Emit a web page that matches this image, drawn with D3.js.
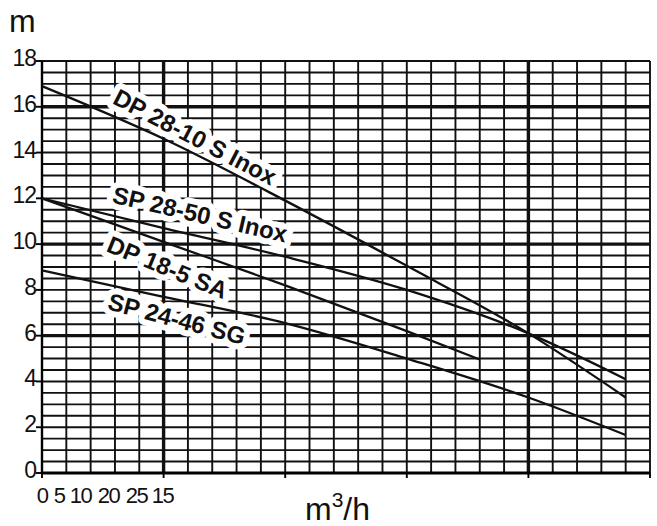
<!DOCTYPE html>
<html>
<head>
<meta charset="utf-8">
<script src="https://cdn.jsdelivr.net/npm/d3@7"></script>
<style>
body { margin: 0; background: #fff; }
text { font-family: "Liberation Sans", Arial, sans-serif; fill: #111; }
</style>
</head>
<body>
<div id="chart"></div>
<script>
// flow axis is read in grid cells (25 cells across), head in m
var flowCells = [0, 5, 10, 15, 20, 24];
var dp2810 = [16.9, 14.6, 11.9, 9.05, 6.1, 3.3];
var sp2850 = [12.0, 10.7, 9.45, 8.0, 6.1, 4.1];
var dp185Cells = [0, 5, 10, 15, 18];
var dp185 = [12.0, 10.1, 8.2, 6.2, 4.96];
var sp2446 = [8.85, 7.7, 6.55, 5.0, 3.3, 1.66];

var seriesNames = ["DP 28-10 S Inox", "SP 28-50 S Inox", "DP 18-5 SA", "SP 24-46 SG"];
var yTicks = [0, 2, 4, 6, 8, 10, 12, 14, 16, 18];
var xTickLabels = ["0", "5", "10", "20", "25", "15"];
var xTickAt = [0, 0.7, 1.58, 2.73, 3.89, 4.95];
var heavyX = [5, 20];
var heavyY = [6, 10, 16];

var W = 657, H = 526;
var margin = {left: 42, top: 61, right: 7, bottom: 53};

var svg = d3.select("#chart").append("svg")
	.attr("width", W)
	.attr("height", H);

var x = d3.scaleLinear().domain([0, 25]).range([margin.left, W - margin.right]);
var y = d3.scaleLinear().domain([0, 18]).range([H - margin.bottom, margin.top]);

// grid
var grid = svg.append("g").attr("stroke", "#111");
grid.selectAll("line.v")
	.data(d3.range(0, 26))
	.enter().append("line")
	.attr("x1", function(d){ return x(d); })
	.attr("x2", function(d){ return x(d); })
	.attr("y1", y(18))
	.attr("y2", y(0))
	.attr("stroke-width", function(d){ return heavyX.indexOf(d) >= 0 ? 3.4 : 1.9; });
grid.selectAll("line.h")
	.data(d3.range(0, 36.5).map(function(i){ return i / 2; }))
	.enter().append("line")
	.attr("x1", x(0))
	.attr("x2", x(25))
	.attr("y1", function(d){ return y(d); })
	.attr("y2", function(d){ return y(d); })
	.attr("stroke-width", function(d){ return heavyY.indexOf(d) >= 0 ? 3.4 : 1.9; });

// axes
svg.append("line")
	.attr("x1", x(0)).attr("x2", x(25))
	.attr("y1", y(0)).attr("y2", y(0))
	.attr("stroke", "#000").attr("stroke-width", 3.2);
svg.append("line")
	.attr("x1", x(0)).attr("x2", x(0))
	.attr("y1", y(18)).attr("y2", y(0))
	.attr("stroke", "#000").attr("stroke-width", 2.4);

var yAxis = svg.append("g");
yAxis.selectAll("line")
	.data(yTicks)
	.enter().append("line")
	.attr("x1", x(0) - 6).attr("x2", x(0))
	.attr("y1", function(d){ return y(d); })
	.attr("y2", function(d){ return y(d); })
	.attr("stroke", "#000").attr("stroke-width", 1.9);
yAxis.selectAll("text")
	.data(yTicks)
	.enter().append("text")
	.attr("x", x(0) - 6)
	.attr("y", function(d){ return y(d) + 5; })
	.attr("text-anchor", "end")
	.style("font-size", "23px")
	.style("letter-spacing", "-1px")
	.text(function(d){ return d; });

var xAxis = svg.append("g");
xAxis.selectAll("line")
	.data([0, 5, 10, 15, 20, 25])
	.enter().append("line")
	.attr("x1", function(d){ return x(d); })
	.attr("x2", function(d){ return x(d); })
	.attr("y1", y(0))
	.attr("y2", y(0) + 5)
	.attr("stroke", "#000").attr("stroke-width", 1.9);
xAxis.selectAll("text")
	.data(xTickLabels)
	.enter().append("text")
	.attr("x", function(d, i){ return x(xTickAt[i]); })
	.attr("y", y(0) + 30)
	.attr("text-anchor", "middle")
	.style("font-size", "22px")
	.style("letter-spacing", "-1.5px")
	.text(function(d){ return d; });

// axis titles
svg.append("text")
	.attr("x", 9).attr("y", 32)
	.style("font-size", "32px")
	.text("m");
var xt = svg.append("text")
	.attr("x", 305).attr("y", 520)
	.style("font-size", "32px");
xt.append("tspan").text("m");
xt.append("tspan").attr("dy", -13).style("font-size", "21px").text("3");
xt.append("tspan").attr("dy", 13).text("/h");

// curve labels (white knockout)
var labelPos = [[6.29, 14.68, 27.5], [6.5, 11.3, 13], [5.16, 8.98, 22.3], [5.54, 6.73, 14.8]];
svg.append("g").selectAll("text")
	.data(seriesNames)
	.enter().append("text")
	.attr("transform", function(d, i){
		var p = labelPos[i];
		return "translate(" + x(p[0]) + "," + y(p[1]) + ") rotate(" + p[2] + ")";
	})
	.attr("dy", "0.35em")
	.attr("text-anchor", "middle")
	.style("font-size", "24px")
	.style("font-weight", "bold")
	.style("stroke", "#fff")
	.style("stroke-width", 12)
	.style("stroke-linejoin", "round")
	.style("paint-order", "stroke")
	.text(function(d){ return d; });

// curves
var series = [
	{cells: flowCells, vals: dp2810},
	{cells: flowCells, vals: sp2850},
	{cells: dp185Cells, vals: dp185},
	{cells: flowCells, vals: sp2446}
];
var line = d3.line()
	.x(function(d){ return x(d[0]); })
	.y(function(d){ return y(d[1]); })
	.curve(d3.curveMonotoneX);
svg.append("g").selectAll("path")
	.data(series)
	.enter().append("path")
	.attr("d", function(s){ return line(s.cells.map(function(c, i){ return [c, s.vals[i]]; })); })
	.attr("fill", "none")
	.attr("stroke", "#111")
	.attr("stroke-width", 2.3);
</script>
</body>
</html>
